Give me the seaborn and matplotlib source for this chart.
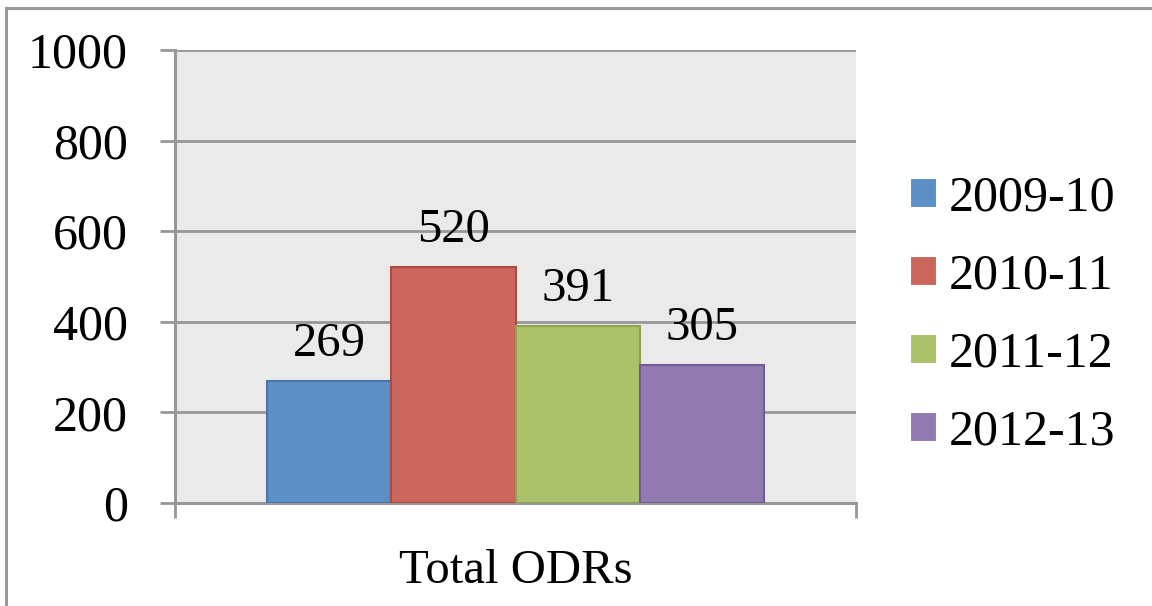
import matplotlib
matplotlib.use("Agg")
import matplotlib.pyplot as plt
import seaborn as sns
import pandas as pd
from matplotlib.patches import Rectangle

# Office discipline referrals per school year
metric = ["Total ODRs"]
years = ["2009-10", "2010-11", "2011-12", "2012-13"]
values = [269, 520, 391, 305]
yticks = [0, 200, 400, 600, 800, 1000]

fills = ["#5B8FC6", "#CB665C", "#ABC26A", "#917AAF"]
edges = ["#4A75A8", "#A94C44", "#8CA452", "#725C92"]

df = pd.DataFrame({"metric": metric * len(years), "year": years, "value": values})

sns.set_theme(style="white")
plt.rcParams["font.family"] = ["Liberation Serif", "DejaVu Serif"]
plt.rcParams["text.color"] = "black"

fig = plt.figure(figsize=(11.52, 6.06), dpi=100)
ax = fig.add_axes([175 / 1152, 1 - 503 / 606, (856 - 175) / 1152, (503 - 50) / 606])
ax.set_facecolor("#EAEAEA")

sns.barplot(data=df, x="metric", y="value", hue="year", hue_order=years,
            palette=fills, saturation=1, width=0.73, gap=0, ax=ax,
            linewidth=1.5, zorder=3)

for cont, ec in zip(ax.containers, edges):
    for bar in cont:
        bar.set_edgecolor(ec)
    ax.bar_label(cont, fmt="%d", padding=11, fontsize=35, color="black")

grid_c = "#979797"
ax.set_ylim(0, 1000)
ax.set_yticks(yticks)
ax.set_xlim(-0.5, 0.5)
ax.yaxis.grid(True, color=grid_c, linewidth=2, zorder=0)
ax.set_axisbelow(True)
for side in ["top", "right"]:
    ax.spines[side].set_visible(False)
for side in ["left", "bottom"]:
    ax.spines[side].set_color(grid_c)
    ax.spines[side].set_linewidth(2.2)

ax.tick_params(axis="y", direction="out", length=11, width=2, color=grid_c,
               pad=23, labelsize=36, labelcolor="black", left=True)
ax.set_xticks([0])
ax.set_xticklabels(metric)
ax.set_xticks([-0.5, 0.5], minor=True)
ax.tick_params(axis="x", which="major", length=0, pad=33, labelsize=35,
               labelcolor="black")
ax.tick_params(axis="x", which="minor", direction="out", length=11, width=2,
               color=grid_c, bottom=True)
ax.set_xlabel("")
ax.set_ylabel("")

leg = ax.legend(loc="center left", bbox_to_anchor=(1.079, 0.415), frameon=False,
                fontsize=36, handlelength=0.55, handleheight=0.55,
                handletextpad=0.22, labelspacing=0.63, borderaxespad=0,
                borderpad=0, labelcolor="black")

# outer chart border
fig.patches.append(Rectangle((6 / 1152, -0.1), 1.2, (1 - 8 / 606) + 0.1,
                             transform=fig.transFigure, fill=False,
                             edgecolor="#999999", linewidth=2.2))

fig.savefig("out.png", dpi=100)
